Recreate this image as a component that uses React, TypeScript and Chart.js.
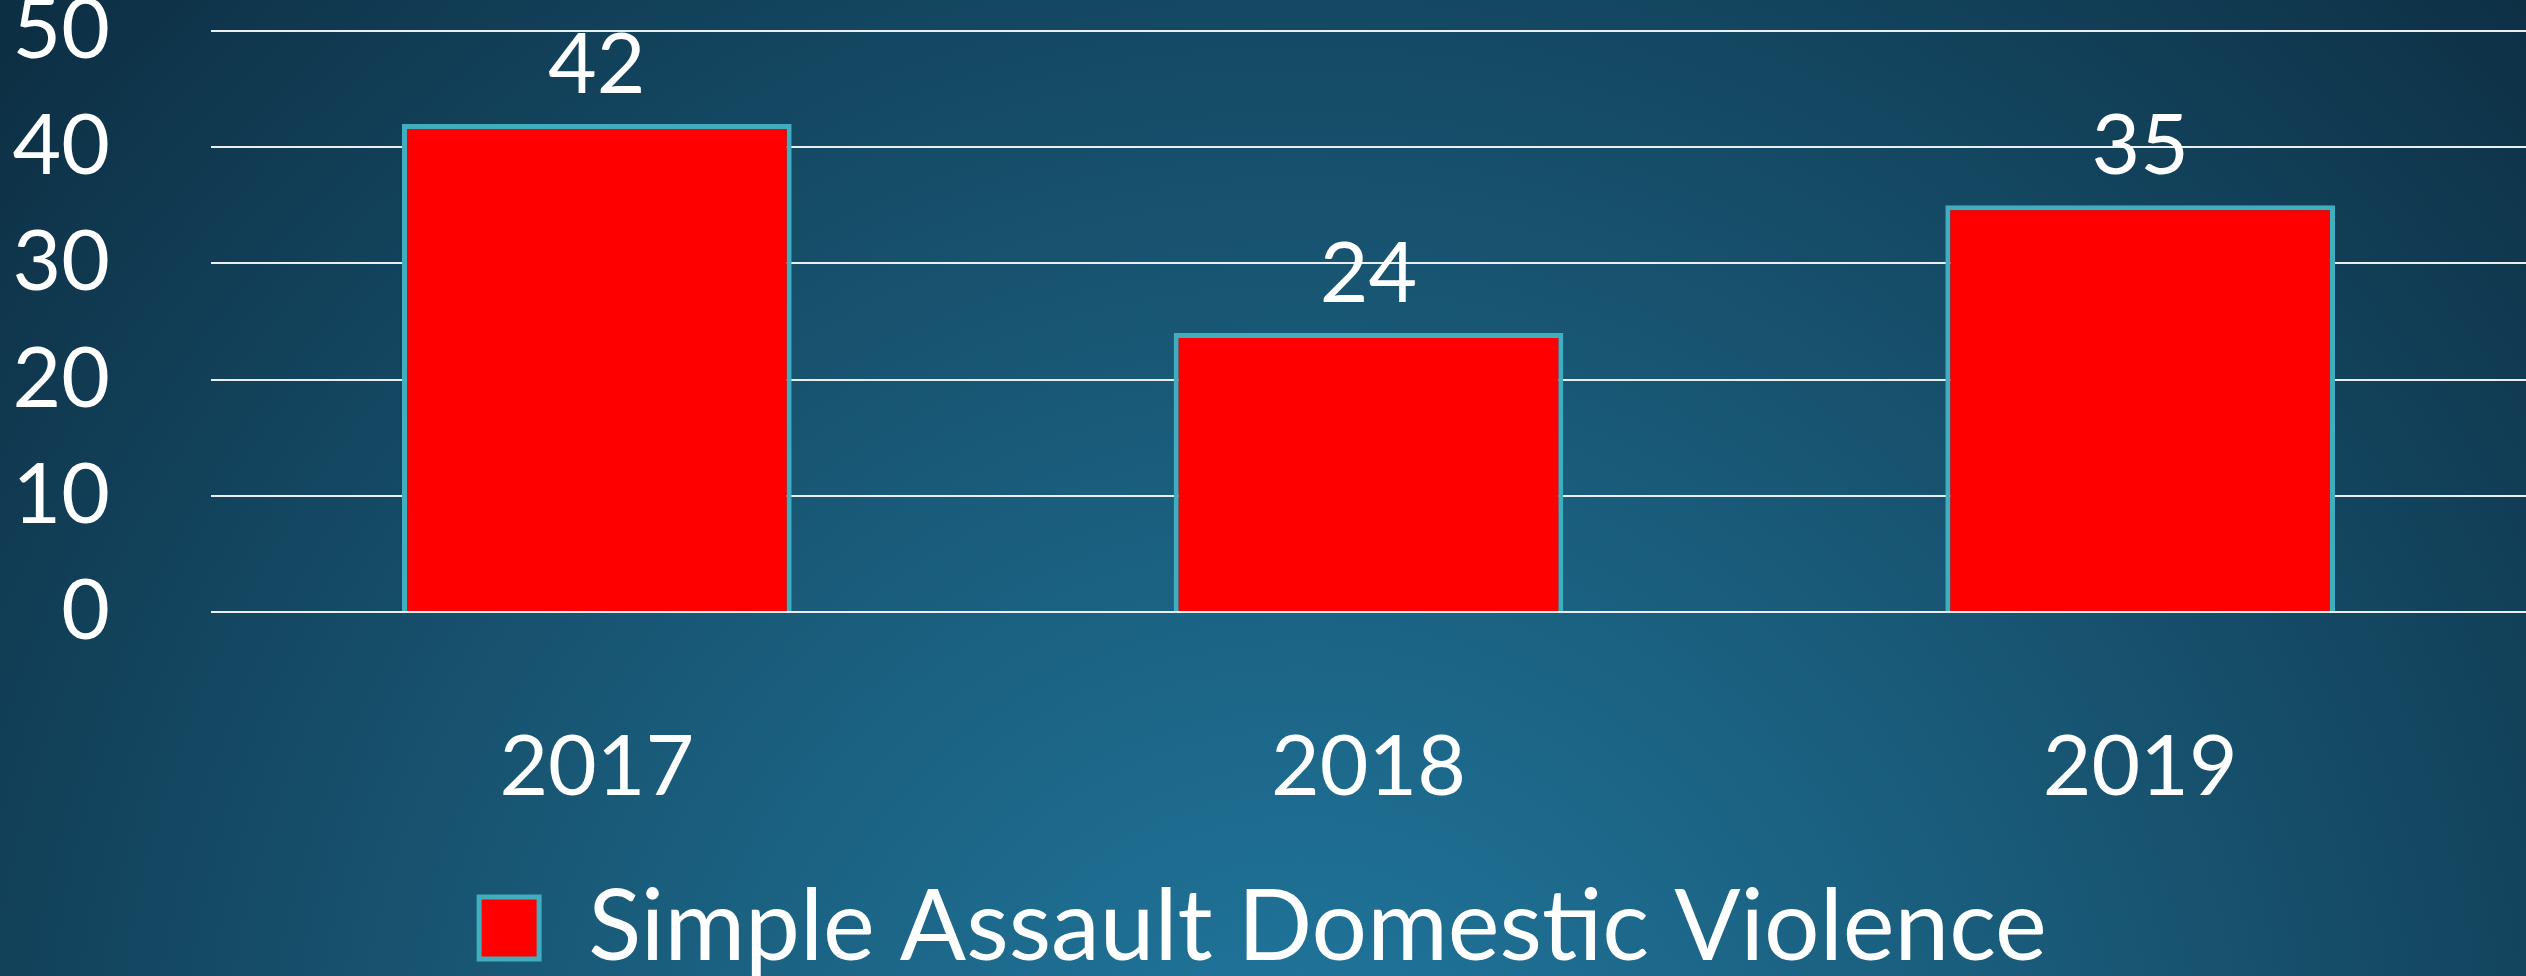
import React, { useEffect, useRef } from "react";
import { Chart, registerables } from "chart.js";

Chart.register(...registerables);

const categories = ["2017", "2018", "2019"];
const seriesName = "Simple Assault Domestic Violence";
const seriesValues = [42, 24, 35];
const yTicks = [0, 10, 20, 30, 40, 50];

const FONT = "Lato, 'Open Sans', sans-serif";

const bgPlugin = {
  id: "bg",
  beforeDraw(chart: any) {
    const { ctx, width, height } = chart;
    ctx.save();
    const g = ctx.createRadialGradient(1300, 1150, 0, 1300, 1150, 1700);
    g.addColorStop(0, "#2179a1");
    g.addColorStop(0.45, "#195a78");
    g.addColorStop(1, "#0d2f44");
    ctx.fillStyle = g;
    ctx.fillRect(0, 0, width, height);
    ctx.restore();
  },
};

const valueLabelPlugin = {
  id: "valueLabels",
  afterDatasetsDraw(chart: any) {
    const { ctx } = chart;
    const meta = chart.getDatasetMeta(0);
    ctx.save();
    ctx.fillStyle = "#ffffff";
    ctx.font = `84px ${FONT}`;
    ctx.textAlign = "center";
    ctx.textBaseline = "middle";
    meta.data.forEach((bar: any, i: number) => {
      ctx.fillText(String(seriesValues[i]), bar.x, bar.y - 58);
    });
    ctx.restore();
  },
};

export default function App() {
  const ref = useRef<HTMLCanvasElement>(null);
  useEffect(() => {
    document.body.style.margin = "0";
    const chart = new Chart(ref.current!, {
      type: "bar",
      data: {
        labels: categories,
        datasets: [
          {
            label: seriesName,
            data: seriesValues,
            backgroundColor: "#ff0000",
            borderColor: "#41aebf",
            borderWidth: 5,
            barPercentage: 0.505,
            categoryPercentage: 1,
          },
        ],
      },
      options: {
        responsive: false,
        animation: false,
        layout: { padding: { top: 0, left: 0, right: 0, bottom: -11 } },
        plugins: {
          legend: {
            position: "bottom",
            labels: {
              color: "#ffffff",
              font: { family: FONT, size: 98 },
              boxWidth: 60,
              boxHeight: 62,
              padding: 20,
            },
          },
          tooltip: { enabled: false },
        },
        scales: {
          x: {
            grid: { display: false, drawTicks: false },
            border: { display: false },
            ticks: {
              color: "#ffffff",
              font: { family: FONT, size: 84 },
              padding: 106,
            },
            afterFit: (scale: any) => {
              scale.height = 247;
            },
          },
          y: {
            min: 0,
            max: 50,
            afterBuildTicks: (scale: any) => {
              scale.ticks = yTicks.map((v) => ({ value: v }));
            },
            afterFit: (scale: any) => {
              scale.width = 211;
              scale.paddingTop = 31;
              scale.paddingBottom = 0;
            },
            grid: { color: "#e8eef2", lineWidth: 2, drawTicks: false },
            border: { display: false },
            ticks: {
              color: "#ffffff",
              font: { family: FONT, size: 84 },
              padding: 101,
            },
          },
        },
      },
      plugins: [bgPlugin, valueLabelPlugin],
    });
    return () => chart.destroy();
  }, []);
  return (
    <div style={{ width: 2526, height: 976 }}>
      <canvas ref={ref} width={2526} height={976} style={{ display: "block" }} />
    </div>
  );
}
